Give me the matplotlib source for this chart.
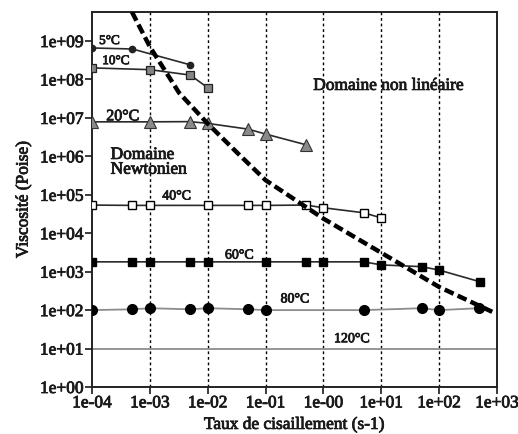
import matplotlib
matplotlib.use("Agg")
import matplotlib.pyplot as plt
import matplotlib.patheffects as pe
from matplotlib.ticker import FixedLocator, FixedFormatter, NullLocator

plt.rcParams["font.family"] = ["Liberation Serif", "DejaVu Serif"]

# Axis ticks and labels
x_ticks = [1e-4, 1e-3, 1e-2, 1e-1, 1e0, 1e1, 1e2, 1e3]
x_tick_labels = ["1e-04", "1e-03", "1e-02", "1e-01", "1e-00", "1e+01", "1e+02", "1e+03"]
y_ticks = [1e0, 1e1, 1e2, 1e3, 1e4, 1e5, 1e6, 1e7, 1e8, 1e9]
y_tick_labels = ["1e+00", "1e+01", "1e+02", "1e+03", "1e+04", "1e+05",
                 "1e+06", "1e+07", "1e+08", "1e+09"]

# Viscosity measurements per temperature (shear rate s-1, viscosity Poise)
x_5 = [1e-4, 5e-4, 5e-3]
y_5 = [6.6e8, 6.2e8, 2.4e8]

x_10 = [1e-4, 1e-3, 5e-3, 1e-2]
y_10 = [2.0e8, 1.8e8, 1.3e8, 6.1e7]

x_20 = [1e-4, 1e-3, 5e-3, 1e-2, 5e-2, 1e-1, 5e-1]
y_20 = [7.9e6, 7.9e6, 8.0e6, 7.2e6, 5.1e6, 3.8e6, 2.0e6]

x_40 = [1e-4, 5e-4, 1e-3, 1e-2, 5e-2, 1e-1, 5e-1, 1e0, 5e0, 1e1]
y_40 = [5.4e4, 5.3e4, 5.3e4, 5.3e4, 5.3e4, 5.3e4, 5.4e4, 4.6e4, 3.4e4, 2.5e4]

x_60 = [1e-4, 5e-4, 1e-3, 5e-3, 1e-2, 1e-1, 5e-1, 1e0, 5e0, 1e1, 5e1, 1e2, 5e2]
y_60 = [1.8e3, 1.8e3, 1.8e3, 1.8e3, 1.8e3, 1.8e3, 1.8e3, 1.8e3, 1.8e3,
        1.5e3, 1.35e3, 1.1e3, 5.5e2]

x_80 = [1e-4, 5e-4, 1e-3, 5e-3, 1e-2, 5e-2, 1e-1, 5e0, 5e1, 1e2, 4.8e2]
y_80 = [100, 105, 112, 105, 112, 105, 100, 100, 112, 100, 112]

x_120 = [1e-4, 1e3]
y_120 = [10, 10]

# Boundary between Newtonian and non-linear domains
x_limit = [4.9e-4, 1e-3, 3.2e-3, 1e-2, 3.2e-2, 1e-1, 3.2e-1, 1e0, 1e1, 1e2, 9e2]
y_limit = [5.7e9, 7.1e8, 4.5e7, 7.1e6, 1.26e6, 2.4e5, 7.5e4, 2.4e4, 3.1e3, 4.0e2, 8.5e1]

fig = plt.figure(figsize=(5.18, 4.35), dpi=100)
ax = fig.add_axes([92 / 518, 47 / 435, 405 / 518, 375 / 435])
ax.set_xscale("log")
ax.set_yscale("log")
ax.set_xlim(1e-4, 1e3)
ax.set_ylim(1e0, 10 ** 9.755)

# heavier text strokes, as in the printed figure
heavy = [pe.withStroke(linewidth=0.6, foreground="#1a1a1a")]

# vertical dotted grid at each decade
for xv in x_ticks[1:-1]:
    ax.axvline(xv, color="black", lw=1.0, ls=(0, (2, 2)), zorder=1)

dark = "#2a2a2a"
ax.plot(x_120, y_120, color="#8c8c8c", lw=1.3, zorder=2)
ax.plot(x_80, y_80, color="#8c8c8c", lw=1.3, zorder=2)
ax.plot(x_80, y_80, ls="none", marker="o", ms=7, color="black", zorder=4)
ax.plot(x_60, y_60, color=dark, lw=1.2, marker="s", ms=5.5,
        mfc="black", mec="black", zorder=3)
ax.plot(x_40, y_40, color=dark, lw=1.2, marker="s", ms=5.5,
        mfc="white", mec="black", mew=1.0, zorder=3)
ax.plot(x_20, y_20, color=dark, lw=1.2, marker="^", ms=8,
        mfc="#8a8a8a", mec="#333333", mew=0.8, zorder=3)
ax.plot(x_10, y_10, color=dark, lw=1.2, marker="s", ms=6,
        mfc="#858585", mec="#222222", mew=0.9, zorder=3)
ax.plot(x_5, y_5, color=dark, lw=1.2, marker="o", ms=4.5,
        mfc="#222222", mec="#222222", zorder=3)

ax.plot(x_limit, y_limit, color="black", lw=3.2, ls=(0, (2.2, 1.0)),
        solid_capstyle="butt", dash_capstyle="butt", zorder=5)

# Annotations
labels = [
    (2.0e-4, 1.0e9, "5°C", 9.5, "center"),
    (2.6e-4, 3.0e8, "10°C", 9.5, "center"),
    (3.4e-4, 1.1e7, "20°C", 11.5, "center"),
    (2.1e-4, 7.0e5, "Domaine\nNewtonien", 12.5, "left"),
    (2.9e-3, 9.3e4, "40°C", 10, "center"),
    (3.5e-2, 2.7e3, "60°C", 10, "center"),
    (0.32, 195, "80°C", 10, "center"),
    (3.1, 18, "120°C", 10, "center"),
    (13.5, 6.8e7, "Domaine non linéaire", 12.5, "center"),
]
for lx, ly, txt, size, ha in labels:
    ax.text(lx, ly, txt, fontsize=size, ha=ha, va="center", linespacing=0.9,
            color="#1a1a1a", path_effects=heavy)

ax.xaxis.set_major_locator(FixedLocator(x_ticks))
ax.xaxis.set_major_formatter(FixedFormatter(x_tick_labels))
ax.xaxis.set_minor_locator(NullLocator())
ax.yaxis.set_major_locator(FixedLocator(y_ticks))
ax.yaxis.set_major_formatter(FixedFormatter(y_tick_labels))
ax.yaxis.set_minor_locator(NullLocator())
ax.tick_params(axis="both", direction="out", length=5, width=1.2,
               labelsize=12.5, pad=1, colors="#1a1a1a")
for lab in ax.get_xticklabels() + ax.get_yticklabels():
    lab.set_path_effects(heavy)

for s in ax.spines.values():
    s.set_linewidth(1.4)
    s.set_color("#222222")

ax.set_xlabel("Taux de cisaillement (s-1)", fontsize=12.5, labelpad=4,
              color="#1a1a1a", path_effects=heavy)
ax.set_ylabel("Viscosité (Poise)", fontsize=12.5, labelpad=6,
              color="#1a1a1a", path_effects=heavy)

fig.savefig("out.png", dpi=100)
